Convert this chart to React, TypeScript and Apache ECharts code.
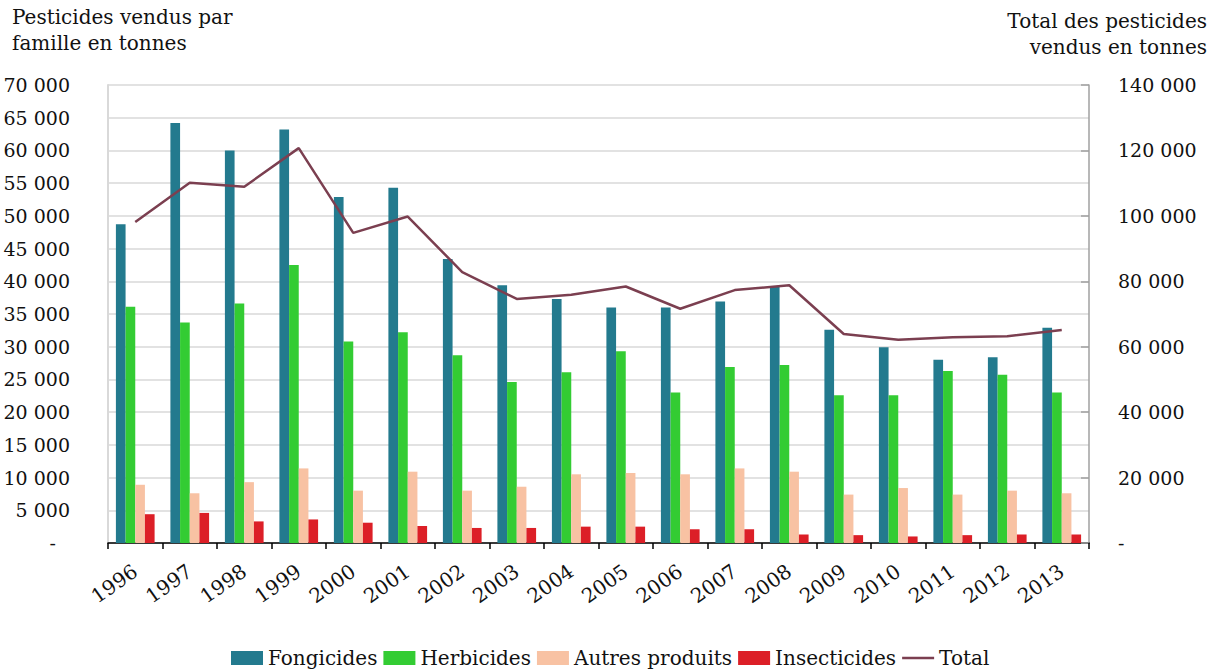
import React, { useEffect, useRef } from "react";
import * as echarts from "echarts";

const years = ["1996","1997","1998","1999","2000","2001","2002","2003","2004","2005","2006","2007","2008","2009","2010","2011","2012","2013"];
const fongicides = [48700,64200,60000,63200,52900,54300,43400,39400,37300,36000,36000,36900,39200,32600,29900,28000,28400,32900];
const herbicides = [36100,33700,36600,42500,30800,32200,28700,24600,26100,29300,23000,26900,27200,22600,22600,26300,25700,23000];
const autres = [8900,7600,9300,11400,8000,10900,8000,8600,10500,10700,10500,11400,10900,7400,8400,7400,8000,7600];
const insecticides = [4400,4600,3300,3600,3100,2600,2300,2300,2500,2500,2100,2100,1300,1200,1000,1200,1300,1300];
const total = [98100,110100,108900,120700,94800,99800,82800,74600,75900,78400,71600,77300,78800,63900,62100,62900,63200,65100];

const FONT = "DejaVu Serif";
const fmt = (v: number) => String(v).replace(/\B(?=(\d{3})+(?!\d))/g, " ");

export default function App() {
  const ref = useRef<HTMLDivElement>(null);
  useEffect(() => {
    if (!ref.current) return;
    const chart = echarts.init(ref.current, null, { renderer: "svg" });
    const barCommon = { type: "bar" as const, barGap: "0%", barCategoryGap: "29%", yAxisIndex: 0 };
    const titleStyle = { font: `20px "${FONT}"`, fill: "#111" };
    chart.setOption({
      animation: false,
      backgroundColor: "#ffffff",
      textStyle: { fontFamily: FONT },
      grid: { left: 108, right: 126, top: 85, bottom: 128, containLabel: false },
      legend: {
        left: 226,
        top: 643,
        itemWidth: 32,
        itemHeight: 14,
        itemGap: 6,
        textStyle: { fontFamily: FONT, fontSize: 20, color: "#111" },
        data: [
          { name: "Fongicides", icon: "rect" },
          { name: "Herbicides", icon: "rect" },
          { name: "Autres produits", icon: "rect" },
          { name: "Insecticides", icon: "rect" },
          { name: "Total", icon: "path://M0,0h32v2.5h-32z" },
        ],
      },
      graphic: [
        { type: "text", x: 12, y: 7, style: { ...titleStyle, text: "Pesticides vendus par" } },
        { type: "text", x: 12, y: 33, style: { ...titleStyle, text: "famille en tonnes" } },
        { type: "text", x: 1207, y: 11, style: { ...titleStyle, text: "Total des pesticides", align: "right" } },
        { type: "text", x: 1207, y: 37, style: { ...titleStyle, text: "vendus en tonnes", align: "right" } },
      ],
      xAxis: {
        type: "category",
        data: years,
        axisLine: { lineStyle: { color: "#000", width: 1.5 } },
        axisTick: { show: true, length: 6, lineStyle: { color: "#000", width: 1.5 } },
        axisLabel: { rotate: 35, margin: 26, fontFamily: FONT, fontSize: 20, color: "#111" },
      },
      yAxis: [
        {
          type: "value",
          min: 0,
          max: 70000,
          interval: 5000,
          axisLine: { show: true, lineStyle: { color: "#d9d9d9", width: 2 } },
          axisTick: { show: false },
          splitLine: { lineStyle: { color: "#d9d9d9", width: 1.5 } },
          axisLabel: {
            margin: 38,
            fontFamily: FONT,
            fontSize: 19,
            color: "#111",
            formatter: (v: number) => (v === 0 ? "{z|-}" : fmt(v)),
            rich: { z: { fontFamily: FONT, fontSize: 19, color: "#111", padding: [0, 14, 0, 0] } },
          },
        },
        {
          type: "value",
          min: 0,
          max: 140000,
          interval: 20000,
          position: "right",
          axisLine: { show: true, lineStyle: { color: "#a0a0a0", width: 1.5 } },
          axisTick: { show: true, inside: true, length: 8, lineStyle: { color: "#a0a0a0", width: 1.5 } },
          splitLine: { show: false },
          axisLabel: {
            margin: 29,
            fontFamily: FONT,
            fontSize: 19,
            color: "#111",
            formatter: (v: number) => (v === 0 ? "-" : fmt(v)),
          },
        },
      ],
      series: [
        { ...barCommon, name: "Fongicides", data: fongicides, itemStyle: { color: "#237a8e" } },
        { ...barCommon, name: "Herbicides", data: herbicides, itemStyle: { color: "#33cc33" } },
        { ...barCommon, name: "Autres produits", data: autres, itemStyle: { color: "#f8c2a3" } },
        { ...barCommon, name: "Insecticides", data: insecticides, itemStyle: { color: "#dc1f27" } },
        {
          type: "line",
          name: "Total",
          yAxisIndex: 1,
          data: total,
          symbol: "none",
          lineStyle: { color: "#7b3f50", width: 2.5 },
          itemStyle: { color: "#7b3f50" },
        },
      ],
    });
    return () => chart.dispose();
  }, []);
  return <div ref={ref} style={{ width: 1215, height: 671, position: "absolute", left: 0, top: 0 }} />;
}
